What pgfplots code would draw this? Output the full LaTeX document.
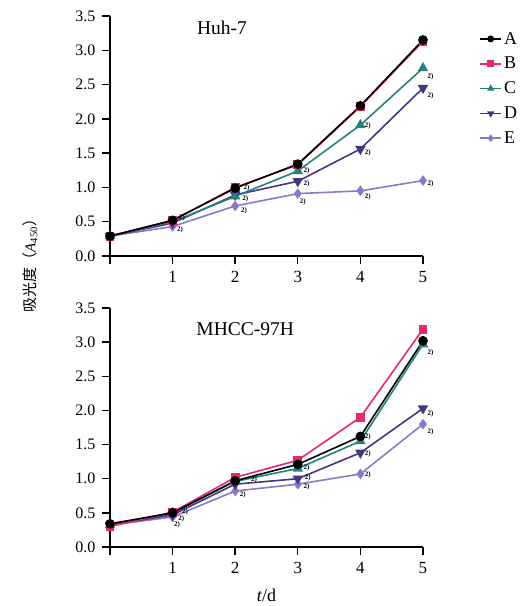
\documentclass[border=0pt]{standalone}
\usepackage{fontspec}
\setmainfont{Liberation Serif}
\newfontfamily\cjk{Noto Sans CJK SC}
\usepackage{pgfplots}
\pgfplotsset{compat=1.18}
\definecolor{cA}{RGB}{0,0,0}
\definecolor{cB}{RGB}{232,40,110}
\definecolor{cC}{RGB}{38,128,125}
\definecolor{cD}{RGB}{72,52,130}
\definecolor{cE}{RGB}{140,120,200}
\tikzset{lab/.style={font=\fontsize{7}{7}\selectfont\bfseries, text=black, inner sep=0pt}}
\pgfplotsset{
  sA/.style={color=cA, line width=1.6pt, mark=*, mark size=4pt},
  sB/.style={color=cB, line width=1.6pt, mark=square*, mark size=3.6pt},
  sC/.style={color=cC, line width=1.6pt, mark=triangle*, mark size=4.5pt},
  sD/.style={color=cD, line width=1.6pt, mark=triangle*, mark options={rotate=180}, mark size=4.5pt},
  sE/.style={color=cE, line width=1.6pt, mark=diamond*, mark size=4pt},
  base/.style={
    scale only axis, width=313pt,
    xmin=0, xmax=5, ymin=0, ymax=3.5,
    axis x line*=bottom, axis y line*=left,
    axis line style={line width=1.4pt, -},
    tick style={line width=1.4pt, black},
    tick align=outside, major tick length=8pt,
    xtick={0,1,2,3,4,5}, xticklabels={,1,2,3,4,5},
    ytick={0,0.5,1,1.5,2,2.5,3,3.5},
    /pgf/number format/assume math mode=true,
    xticklabel style={font=\fontsize{17}{17}\selectfont, yshift=-4pt},
    yticklabel style={font=\fontsize{16}{16}\selectfont, xshift=-3pt, /pgf/number format/.cd, fixed, fixed zerofill, precision=1},
    clip=false,
  },
}
\begin{document}
\begin{tikzpicture}
\path[use as bounding box] (0,0) rectangle (529pt,-606pt);
\begin{axis}[base, height=240pt, at={(110pt,-256pt)}, anchor=south west,
  legend style={at={(axis description cs:1.17,0.95)}, anchor=north west, draw=none, fill=none,
    font=\fontsize{18}{18}\selectfont, row sep=7.5pt,
    /tikz/every even column/.append style={column sep=12pt}},
  legend cell align=left,
  legend image code/.code={\draw[#1, mark size=2.6pt] plot coordinates {(0pt,0pt) (10.5pt,0pt) (21pt,0pt)};},
]
\addlegendimage{sA, mark repeat=2, mark phase=2}\addlegendentry{A}
\addlegendimage{sB, mark repeat=2, mark phase=2}\addlegendentry{B}
\addlegendimage{sC, mark repeat=2, mark phase=2}\addlegendentry{C}
\addlegendimage{sD, mark repeat=2, mark phase=2}\addlegendentry{D}
\addlegendimage{sE, mark repeat=2, mark phase=2}\addlegendentry{E}
\addplot[sE, forget plot] coordinates {(0,0.29) (1,0.43) (2,0.73) (3,0.91) (4,0.95) (5,1.10)};
\addplot[sD, forget plot] coordinates {(0,0.29) (1,0.48) (2,0.89) (3,1.09) (4,1.56) (5,2.45)};
\addplot[sC, forget plot] coordinates {(0,0.29) (1,0.50) (2,0.87) (3,1.24) (4,1.91) (5,2.74)};
\addplot[sB, forget plot] coordinates {(0,0.29) (1,0.52) (2,1.00) (3,1.33) (4,2.18) (5,3.13)};
\addplot[sA, forget plot] coordinates {(0,0.29) (1,0.52) (2,0.99) (3,1.34) (4,2.19) (5,3.15)};
\node[font=\fontsize{19.5}{20}\selectfont] at (axis cs:1.79,3.33) {Huh-7};
\node[lab] at (axis cs:1.15,0.55) {2)};
\node[lab] at (axis cs:1.12,0.38) {2)};
\node[lab] at (axis cs:2.18,0.99) {2)};
\node[lab] at (axis cs:2.16,0.83) {2)};
\node[lab] at (axis cs:2.14,0.66) {2)};
\node[lab] at (axis cs:3.14,1.24) {2)};
\node[lab] at (axis cs:3.14,1.06) {2)};
\node[lab] at (axis cs:3.08,0.79) {2)};
\node[lab] at (axis cs:4.12,1.90) {2)};
\node[lab] at (axis cs:4.12,1.51) {2)};
\node[lab] at (axis cs:4.12,0.87) {2)};
\node[lab] at (axis cs:5.12,2.62) {2)};
\node[lab] at (axis cs:5.12,2.34) {2)};
\node[lab] at (axis cs:5.12,1.06) {2)};
\end{axis}
\begin{axis}[base, height=239pt, at={(110pt,-547pt)}, anchor=south west,
  xlabel={\textit{t}/d},
  xlabel style={at={(axis description cs:0.5,0)}, anchor=center, yshift=-48pt, font=\fontsize{18}{18}\selectfont},
]
\addplot[sE] coordinates {(0,0.32) (1,0.44) (2,0.82) (3,0.92) (4,1.07) (5,1.80)};
\addplot[sD] coordinates {(0,0.32) (1,0.47) (2,0.92) (3,1.00) (4,1.38) (5,2.03)};
\addplot[sC] coordinates {(0,0.32) (1,0.50) (2,0.96) (3,1.15) (4,1.55) (5,2.97)};
\addplot[sB] coordinates {(0,0.30) (1,0.51) (2,1.02) (3,1.27) (4,1.90) (5,3.19)};
\addplot[sA] coordinates {(0,0.34) (1,0.50) (2,0.97) (3,1.21) (4,1.62) (5,3.02)};
\node[font=\fontsize{19.5}{20}\selectfont] at (axis cs:2.16,3.19) {MHCC-97H};
\node[lab] at (axis cs:1.2,0.52) {2)};
\node[lab] at (axis cs:1.14,0.42) {2)};
\node[lab] at (axis cs:1.07,0.33) {2)};
\node[lab] at (axis cs:2.3,0.99) {2)};
\node[lab] at (axis cs:2.12,0.77) {2)};
\node[lab] at (axis cs:3.14,1.16) {2)};
\node[lab] at (axis cs:3.16,1.02) {2)};
\node[lab] at (axis cs:3.14,0.88) {2)};
\node[lab] at (axis cs:4.12,1.61) {2)};
\node[lab] at (axis cs:4.12,1.36) {2)};
\node[lab] at (axis cs:4.12,1.06) {2)};
\node[lab] at (axis cs:5.12,2.85) {2)};
\node[lab] at (axis cs:5.12,1.95) {2)};
\node[lab] at (axis cs:5.12,1.68) {2)};
\end{axis}
\node[rotate=90, font=\fontsize{15}{15}\selectfont] at (30pt,-262pt) {{\cjk 吸光度（}\textit{A}\textsubscript{450}{\cjk ）}};
\end{tikzpicture}
\end{document}
